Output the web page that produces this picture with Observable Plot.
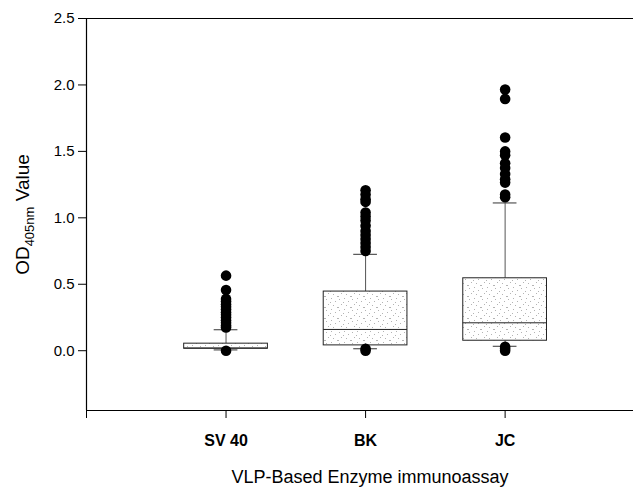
<!DOCTYPE html>
<html>
<head>
<meta charset="utf-8">
<script src="https://cdn.jsdelivr.net/npm/d3@7"></script>
<script src="https://cdn.jsdelivr.net/npm/@observablehq/plot@0.6"></script>
<style>
  html, body { margin: 0; padding: 0; background: #fff; }
  svg { display: block; }
</style>
</head>
<body>
<div id="chart"></div>
<script>
const categories = ["SV 40", "BK", "JC"];
const q1 = [0.015, 0.040, 0.075];
const median = [0.020, 0.160, 0.210];
const q3 = [0.053, 0.445, 0.545];
const whiskerLow = [0.006, 0.015, 0.033];
const whiskerHigh = [0.158, 0.725, 1.112];
const outliersSV40 = [0.565, 0.457, 0.39, 0.37, 0.35, 0.33, 0.31, 0.29, 0.27, 0.25, 0.23, 0.21, 0.19, 0.175, 0.0];
const outliersBK = [1.207, 1.175, 1.14, 1.12, 1.04, 1.01, 0.98, 0.94, 0.90, 0.87, 0.84, 0.81, 0.78, 0.75, 0.015, 0.0];
const outliersJC = [1.965, 1.895, 1.605, 1.50, 1.47, 1.41, 1.375, 1.33, 1.29, 1.265, 1.175, 1.155, 0.03, 0.015, 0.0];
const yTicks = [0, 0.5, 1.0, 1.5, 2.0, 2.5];
const xTitle = "VLP-Based Enzyme immunoassay";
const yTitle = "OD405nm Value";

const boxes = categories.map((c, i) => ({
  pos: i + 1, cat: c, q1: q1[i], med: median[i], q3: q3[i], lo: whiskerLow[i], hi: whiskerHigh[i]
}));
const outlierSets = [outliersSV40, outliersBK, outliersJC];
const outliers = outlierSets.flatMap((arr, i) => arr.map(v => ({pos: i + 1, v})));

const font = "'Liberation Sans', Arial, Helvetica, sans-serif";

const chart = Plot.plot({
  width: 633,
  height: 490,
  marginTop: 18,
  marginBottom: 80,
  marginLeft: 86,
  marginRight: 0,
  style: {fontFamily: font, background: "#fff", color: "#000"},
  x: {type: "linear", domain: [0, 3.92], axis: null},
  y: {domain: [-0.45, 2.5], axis: null},
  marks: [
    // axis lines / frame
    Plot.ruleX([0], {stroke: "#000", strokeWidth: 1.2}),
    Plot.ruleY([-0.45], {stroke: "#000", strokeWidth: 1.2}),
    Plot.ruleY([2.5], {stroke: "#000", strokeWidth: 1.2}),
    Plot.axisY({ticks: yTicks, tickFormat: d3.format(".1f"), tickSize: 8, tickPadding: 4, fontSize: 15, label: null, stroke: "#000"}),
    Plot.axisX({ticks: [0, 1, 2, 3], tickFormat: d => d === 0 ? "" : categories[d - 1], tickSize: 8, tickPadding: 16, fontSize: 16, fontWeight: "bold", label: null, stroke: "#000"}),
    // whiskers
    Plot.ruleX(boxes, {x: "pos", y1: "q3", y2: "hi", stroke: "#555", strokeWidth: 1}),
    Plot.ruleX(boxes, {x: "pos", y1: "lo", y2: "q1", stroke: "#555", strokeWidth: 1}),
    Plot.ruleY(boxes, {y: "hi", x1: d => d.pos - 0.085, x2: d => d.pos + 0.085, stroke: "#555", strokeWidth: 1.2}),
    Plot.ruleY(boxes, {y: "lo", x1: d => d.pos - 0.085, x2: d => d.pos + 0.085, stroke: "#555", strokeWidth: 1.2}),
    // boxes
    Plot.rect(boxes, {x1: d => d.pos - 0.3, x2: d => d.pos + 0.3, y1: "q1", y2: "q3", fill: "url(#stipple)", stroke: "#222", strokeWidth: 1}),
    Plot.ruleY(boxes, {y: "med", x1: d => d.pos - 0.3, x2: d => d.pos + 0.3, stroke: "#222", strokeWidth: 1}),
    // outliers
    Plot.dot(outliers, {x: "pos", y: "v", r: 5.3, fill: "#000", stroke: "none"}),
    // titles
    Plot.text([xTitle], {frameAnchor: "bottom", dy: 72, dx: 10, fontSize: 18, fill: "#000", textAnchor: "middle", text: d => d}),
    Plot.text([yTitle], {frameAnchor: "left", dx: -64, rotate: -90, fontSize: 19, fill: "#000", textAnchor: "middle", text: d => d})
  ]
});

// stipple pattern for box fill
const svg = d3.select(chart);
const defs = svg.insert("defs", ":first-child");
const pat = defs.append("pattern").attr("id", "stipple").attr("patternUnits", "userSpaceOnUse")
  .attr("width", 13).attr("height", 11);
pat.append("rect").attr("width", 13).attr("height", 11).attr("fill", "#fff");
[[1,2],[6,1],[10,4],[3,7],[8,8],[12,10],[5,5],[0,10]].forEach(([x, y]) =>
  pat.append("rect").attr("x", x).attr("y", y).attr("width", 1).attr("height", 1).attr("fill", "#b4b4b4"));

// subscript in y title
svg.selectAll("text").each(function() {
  const t = d3.select(this);
  if (t.text() === yTitle) {
    t.text(null);
    t.append("tspan").text("OD");
    t.append("tspan").attr("font-size", 13).attr("dy", 5).text("405nm");
    t.append("tspan").attr("dy", -5).text(" Value");
  }
});

document.getElementById("chart").appendChild(chart);
</script>
</body>
</html>
